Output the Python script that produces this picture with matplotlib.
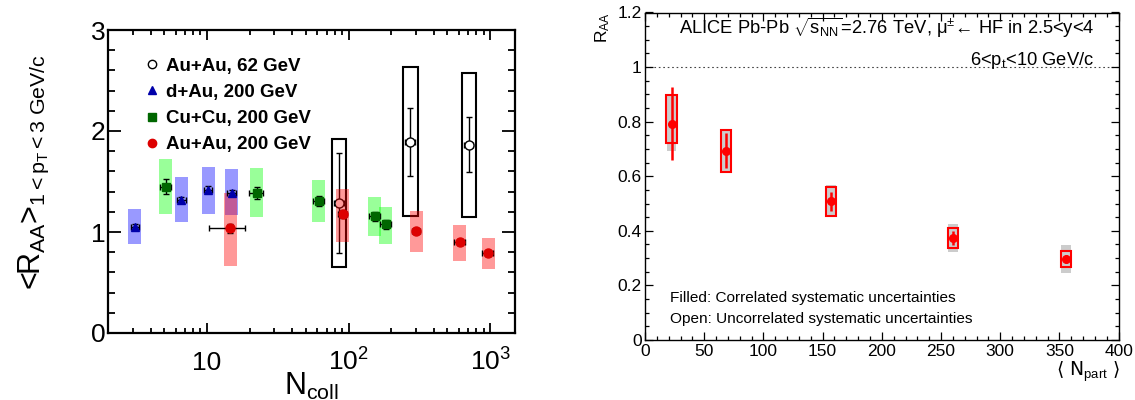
import numpy as np
import matplotlib
matplotlib.use("Agg")
import matplotlib.pyplot as plt
from matplotlib.patches import Rectangle
from matplotlib.lines import Line2D
from matplotlib.ticker import LogLocator, FixedLocator, MultipleLocator, NullFormatter, FuncFormatter

plt.rcParams['font.family'] = ['Liberation Sans', 'DejaVu Sans']
plt.rcParams['mathtext.fontset'] = 'custom'
plt.rcParams['mathtext.rm'] = 'Liberation Sans'
plt.rcParams['mathtext.it'] = 'Liberation Sans'
plt.rcParams['mathtext.bf'] = 'Liberation Sans:bold'
plt.rcParams['mathtext.sf'] = 'Liberation Sans'

# ---------------- Left panel data ----------------
dau_ncoll = [3.1, 6.6, 10.2, 15.0]
dau_raa = [1.05, 1.32, 1.42, 1.39]
dau_stat = [0.025, 0.03, 0.035, 0.03]
dau_sys_lo = [0.88, 1.10, 1.18, 1.17]
dau_sys_hi = [1.225, 1.545, 1.645, 1.625]
dau_xerr_frac = [0.06, 0.07, 0.07, 0.07]

cucu_ncoll = [5.1, 22.4, 61.5, 153, 183]
cucu_raa = [1.45, 1.39, 1.31, 1.155, 1.075]
cucu_stat = [0.075, 0.06, 0.05, 0.045, 0.045]
cucu_sys_lo = [1.18, 1.15, 1.10, 0.965, 0.885]
cucu_sys_hi = [1.72, 1.635, 1.515, 1.347, 1.248]
cucu_xerr_frac = [0.085, 0.11, 0.09, 0.09, 0.09]

auau200_ncoll = [14.6, 91, 300, 612, 968]
auau200_raa = [1.035, 1.175, 1.01, 0.905, 0.79]
auau200_stat = [0.04, 0.04, 0.03, 0.03, 0.025]
auau200_sys_lo = [0.665, 0.905, 0.805, 0.715, 0.63]
auau200_sys_hi = [1.39, 1.425, 1.21, 1.07, 0.945]
auau200_xerr_lo = [4.2, 7, 20, 52, 85]
auau200_xerr_hi = [3.9, 7, 20, 52, 85]

auau62_ncoll = [86, 274, 706]
auau62_raa = [1.29, 1.895, 1.86]
auau62_stat_lo = [0.795, 1.557, 1.594]
auau62_stat_hi = [1.779, 2.23, 2.136]
auau62_sys_lo = [0.657, 1.158, 1.145]
auau62_sys_hi = [1.918, 2.637, 2.577]
auau62_xerr_frac = [0.08, 0.08, 0.08]

legend_labels = ['Au+Au, 62 GeV', 'd+Au, 200 GeV', 'Cu+Cu, 200 GeV', 'Au+Au, 200 GeV']
xticks_left = [10, 100, 1000]
xticklabels_left = ['10', r'$\mathregular{10^{2}}$', r'$\mathregular{10^{3}}$']

# ---------------- Right panel data ----------------
npart = [22.5, 68.5, 157, 260, 355.5]
raa = [0.793, 0.694, 0.508, 0.373, 0.296]
raa_stat = [0.133, 0.064, 0.036, 0.026, 0.015]
uncorr_lo = [0.722, 0.615, 0.456, 0.336, 0.267]
uncorr_hi = [0.897, 0.771, 0.560, 0.410, 0.326]
corr_lo = [0.691, 0.620, 0.450, 0.322, 0.247]
corr_hi = [0.897, 0.765, 0.569, 0.425, 0.349]

W, H = 1135, 400
fig = plt.figure(figsize=(W / 100, H / 100), dpi=100)

# ================= LEFT PANEL =================
axL = fig.add_axes([108 / W, 1 - 333 / H, (515 - 108) / W, (333 - 30) / H])
axL.set_xscale('log')
axL.set_xlim(2, 1500)
axL.set_ylim(0, 3)

boxf = 10 ** 0.046     # half-width factor of colored boxes (log)
boxf62 = 10 ** 0.05


def boxes(ax, xs, lo, hi, f, **kw):
    for x, l, h in zip(xs, lo, hi):
        ax.add_patch(Rectangle((x / f, l), x * f - x / f, h - l, **kw))


# Au+Au 62 (open)
boxes(axL, auau62_ncoll, auau62_sys_lo, auau62_sys_hi, boxf62,
      facecolor='none', edgecolor='black', lw=1.5, zorder=2)
x62 = np.array(auau62_ncoll)
y62 = np.array(auau62_raa)
axL.errorbar(x62, y62,
             yerr=[y62 - np.array(auau62_stat_lo), np.array(auau62_stat_hi) - y62],
             xerr=x62 * np.array(auau62_xerr_frac),
             fmt='o', ms=6.5, mfc='white', mec='black', mew=1.0, ecolor='black',
             elinewidth=1.0, capsize=2, capthick=1.0, zorder=3)

# colored translucent boxes
boxes(axL, dau_ncoll, dau_sys_lo, dau_sys_hi, boxf,
      facecolor=(0, 0, 1, 0.4), edgecolor='none', zorder=4)
boxes(axL, cucu_ncoll, cucu_sys_lo, cucu_sys_hi, boxf,
      facecolor=(0, 1, 0, 0.4), edgecolor='none', zorder=4)
boxes(axL, auau200_ncoll, auau200_sys_lo, auau200_sys_hi, boxf,
      facecolor=(1, 0, 0, 0.4), edgecolor='none', zorder=4)

xd = np.array(dau_ncoll)
axL.errorbar(xd, dau_raa, yerr=dau_stat, xerr=xd * np.array(dau_xerr_frac),
             fmt='^', ms=5.5, mfc='#0000aa', mec='#0000aa', ecolor='black',
             elinewidth=1.0, capsize=2, capthick=1.0, zorder=5)
xc = np.array(cucu_ncoll)
axL.errorbar(xc, cucu_raa, yerr=cucu_stat, xerr=xc * np.array(cucu_xerr_frac),
             fmt='s', ms=6, mfc='#006600', mec='#006600', ecolor='black',
             elinewidth=1.0, capsize=2, capthick=1.0, zorder=5)
axL.errorbar(auau200_ncoll, auau200_raa, yerr=auau200_stat,
             xerr=[auau200_xerr_lo, auau200_xerr_hi],
             fmt='o', ms=6.5, mfc='#dd0000', mec='#dd0000', ecolor='black',
             elinewidth=1.0, capsize=2, capthick=1.0, zorder=5)

axL.xaxis.set_major_locator(FixedLocator(xticks_left))
axL.xaxis.set_minor_locator(LogLocator(base=10, subs=np.arange(2, 10)))
axL.xaxis.set_minor_formatter(NullFormatter())
axL.set_xticks(xticks_left, labels=xticklabels_left)
axL.yaxis.set_major_locator(FixedLocator([0, 1, 2, 3]))
axL.yaxis.set_minor_locator(MultipleLocator(0.2))
axL.yaxis.set_major_formatter(FuncFormatter(lambda v, p: f'{v:g}'))

axL.tick_params(axis='both', which='both', direction='in', top=True, right=True,
                width=1.3, colors='black')
axL.tick_params(axis='x', which='major', length=7, labelsize=19, pad=27)
axL.tick_params(axis='x', which='minor', length=3.5)
axL.tick_params(axis='y', which='major', length=9.5, labelsize=19, pad=2)
axL.tick_params(axis='y', which='minor', length=5)
for lab in axL.get_xticklabels():
    lab.set_va('baseline')
for s in axL.spines.values():
    s.set_linewidth(1.6)

axL.set_ylabel(r'<R$_{AA}$>$_{1<p_{T}<3\ GeV/c}$', fontsize=22)
axL.yaxis.set_label_coords(-0.14, 0.53)
axL.set_xlabel(r'N$_{coll}$', fontsize=22)
axL.xaxis.set_label_coords(0.5, -0.125)

handles = [
    Line2D([], [], ls='none', marker='o', ms=6, mfc='white', mec='black', mew=1.0),
    Line2D([], [], ls='none', marker='^', ms=5.5, mfc='#0000aa', mec='#0000aa'),
    Line2D([], [], ls='none', marker='s', ms=5.5, mfc='#006600', mec='#006600'),
    Line2D([], [], ls='none', marker='o', ms=6, mfc='#dd0000', mec='#dd0000'),
]
axL.legend(handles, legend_labels, loc='upper left',
           bbox_to_anchor=(0.089, 0.9086), frameon=False,
           prop={'family': 'Liberation Sans', 'weight': 'bold', 'size': 13.5},
           handlelength=0.8, handletextpad=0.347, borderpad=0, borderaxespad=0,
           labelspacing=0.48)

# ================= RIGHT PANEL =================
axR = fig.add_axes([645 / W, 1 - 340 / H, (1118.7 - 645) / W, (340 - 12.5) / H])
axR.set_xlim(0, 400)
axR.set_ylim(0, 1.2)
axR.axhline(1.0, color='#444444', lw=0.8, ls=(0, (1.5, 2.5)), zorder=1)

for x, l, h in zip(npart, corr_lo, corr_hi):
    axR.add_patch(Rectangle((x - 4.0, l), 8.0, h - l, facecolor='#cccccc',
                            edgecolor='none', zorder=2))
for x, l, h in zip(npart, uncorr_lo, uncorr_hi):
    axR.add_patch(Rectangle((x - 4.5, l), 9.0, h - l, facecolor='none',
                            edgecolor='#ff0000', lw=1.5, zorder=3))
axR.errorbar(npart, raa, yerr=raa_stat, fmt='o', ms=5.5, color='#ff0000',
             mec='#ff0000', elinewidth=1.8, capsize=0, zorder=4)

axR.xaxis.set_major_locator(MultipleLocator(50))
axR.xaxis.set_minor_locator(MultipleLocator(10))
axR.yaxis.set_major_locator(MultipleLocator(0.2))
axR.yaxis.set_minor_locator(MultipleLocator(0.05))
axR.yaxis.set_major_formatter(FuncFormatter(lambda v, p: f'{v:g}'))
axR.xaxis.set_major_formatter(FuncFormatter(lambda v, p: f'{v:g}'))
axR.tick_params(axis='both', which='both', direction='in', top=True, right=True,
                width=0.9, labelsize=12.5)
axR.tick_params(axis='both', which='major', length=6)
axR.tick_params(axis='both', which='minor', length=3)
axR.tick_params(axis='x', which='major', pad=3)
axR.tick_params(axis='y', which='major', pad=2.5)
for s in axR.spines.values():
    s.set_linewidth(1.0)

axR.text(0.948, 0.934,
         r'ALICE Pb-Pb $\sqrt{\mathregular{s_{NN}}}$=2.76 TeV, μ$^{\pm}$← HF in 2.5<y<4',
         transform=axR.transAxes, ha='right', va='baseline', fontsize=13.2)
axR.text(0.948, 0.84, r'6<p$_{t}$<10 GeV/c',
         transform=axR.transAxes, ha='right', va='baseline', fontsize=13.2)
axR.text(0.053, 0.116, 'Filled: Correlated systematic uncertainties',
         transform=axR.transAxes, ha='left', va='baseline', fontsize=11.1)
axR.text(0.053, 0.052, 'Open: Uncorrelated systematic uncertainties',
         transform=axR.transAxes, ha='left', va='baseline', fontsize=11.1)
axR.text(1.003, -0.11, '⟨ N$_{part}$ ⟩',
         transform=axR.transAxes, ha='right', va='baseline', fontsize=13.5,
         family=['DejaVu Sans'])
fig.text(603 / W, 1 - 12 / H, r'R$_{AA}$', rotation=90, ha='center', va='top',
         fontsize=12.5)

fig.savefig('out.png', dpi=100)
